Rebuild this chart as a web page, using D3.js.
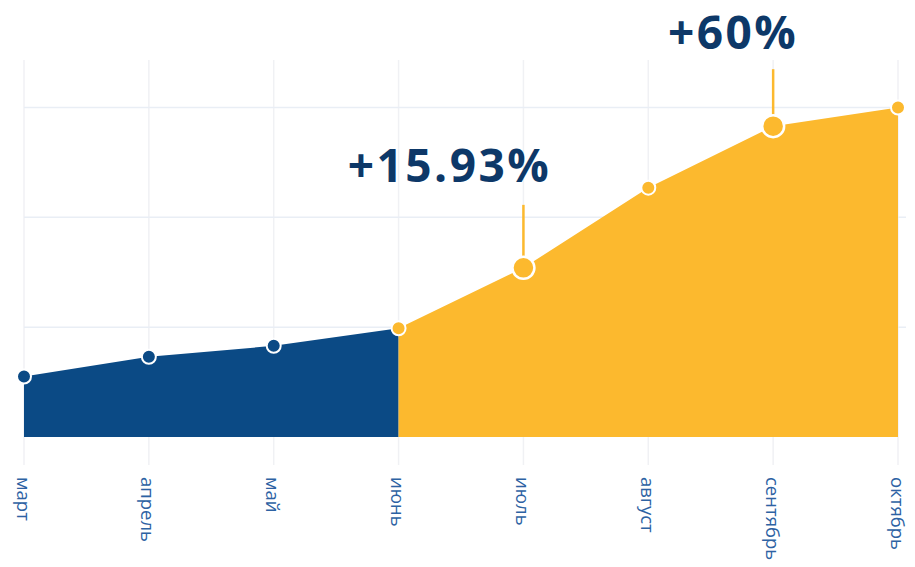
<!DOCTYPE html>
<html>
<head>
<meta charset="utf-8">
<script src="https://cdn.jsdelivr.net/npm/d3@7"></script>
<style>
  body { margin: 0; background: #fff; }
  svg { display: block; font-family: "Open Sans", "Noto Sans", sans-serif; }
</style>
</head>
<body>
<div id="chart"></div>
<script>
const months = ['март', 'апрель', 'май', 'июнь', 'июль', 'август', 'сентябрь', 'октябрь'];
const values = [0.55, 0.73, 0.83, 0.99, 1.54, 2.27, 2.83, 3.0];
const splitIndex = 3; // blue up to июнь, yellow after
const calloutMonths = ['июль', 'сентябрь'];
const calloutLabels = ['+15.93%', '+60%'];
const gridValues = [1, 2, 3];

// label placement relative to the point (layout only)
const calloutLayout = [
  { dx: -74, dy: -86, stem: 63 },
  { dx: -40, dy: -77, stem: 57 }
];

const width = 915, height = 567;
const blue = '#0b4a85', yellow = '#fcb92e', navy = '#0d3868';

const svg = d3.select('#chart').append('svg')
  .attr('width', width)
  .attr('height', height);

const x = d3.scalePoint().domain(months).range([24, 898]);
const y = d3.scaleLinear().domain([0, 3]).range([437, 107.5]);

const data = months.map((m, i) => ({ month: m, value: values[i], i: i }));
const callouts = calloutMonths.map((m, i) => ({
  month: m,
  label: calloutLabels[i],
  value: values[months.indexOf(m)],
  ...calloutLayout[i]
}));

// grid
svg.append('g').selectAll('line')
  .data(months)
  .enter().append('line')
    .attr('x1', d => x(d)).attr('x2', d => x(d))
    .attr('y1', 60).attr('y2', 465)
    .attr('stroke', '#f0f1f4')
    .attr('stroke-width', 1.5);

svg.append('g').selectAll('line')
  .data(gridValues)
  .enter().append('line')
    .attr('x1', 24).attr('x2', 906)
    .attr('y1', d => y(d)).attr('y2', d => y(d))
    .attr('stroke', '#e9eef5')
    .attr('stroke-width', 1.5);

const area = d3.area()
  .x(d => x(d.month))
  .y0(y(0))
  .y1(d => y(d.value));

svg.append('path')
  .datum(data.slice(0, splitIndex + 1))
  .attr('d', area)
  .attr('fill', blue);

svg.append('path')
  .datum(data.slice(splitIndex))
  .attr('d', area)
  .attr('fill', yellow);

// callout stems
svg.append('g').selectAll('line')
  .data(callouts)
  .enter().append('line')
    .attr('x1', d => x(d.month)).attr('x2', d => x(d.month))
    .attr('y1', d => y(d.value) - d.stem)
    .attr('y2', d => y(d.value))
    .attr('stroke', yellow)
    .attr('stroke-width', 2.5);

// points
svg.append('g').selectAll('circle')
  .data(data)
  .enter().append('circle')
    .attr('cx', d => x(d.month))
    .attr('cy', d => y(d.value))
    .attr('r', d => calloutMonths.includes(d.month) ? 11 : 7)
    .attr('fill', d => d.i < splitIndex ? blue : yellow)
    .attr('stroke', '#fff')
    .attr('stroke-width', d => calloutMonths.includes(d.month) ? 2.5 : 2);

// callout labels
svg.append('g').selectAll('text')
  .data(callouts)
  .enter().append('text')
    .attr('x', d => x(d.month) + d.dx)
    .attr('y', d => y(d.value) + d.dy)
    .attr('text-anchor', 'middle')
    .attr('font-size', 46)
    .attr('font-weight', 700)
    .attr('letter-spacing', 2.5)
    .attr('fill', navy)
    .text(d => d.label);

// month labels
svg.append('g').selectAll('text')
  .data(months)
  .enter().append('text')
    .attr('transform', d => `translate(${x(d)},477) rotate(90)`)
    .attr('dominant-baseline', 'central')
    .attr('font-size', 18.5)
    .attr('fill', '#2d62a3')
    .text(d => d);
</script>
</body>
</html>
